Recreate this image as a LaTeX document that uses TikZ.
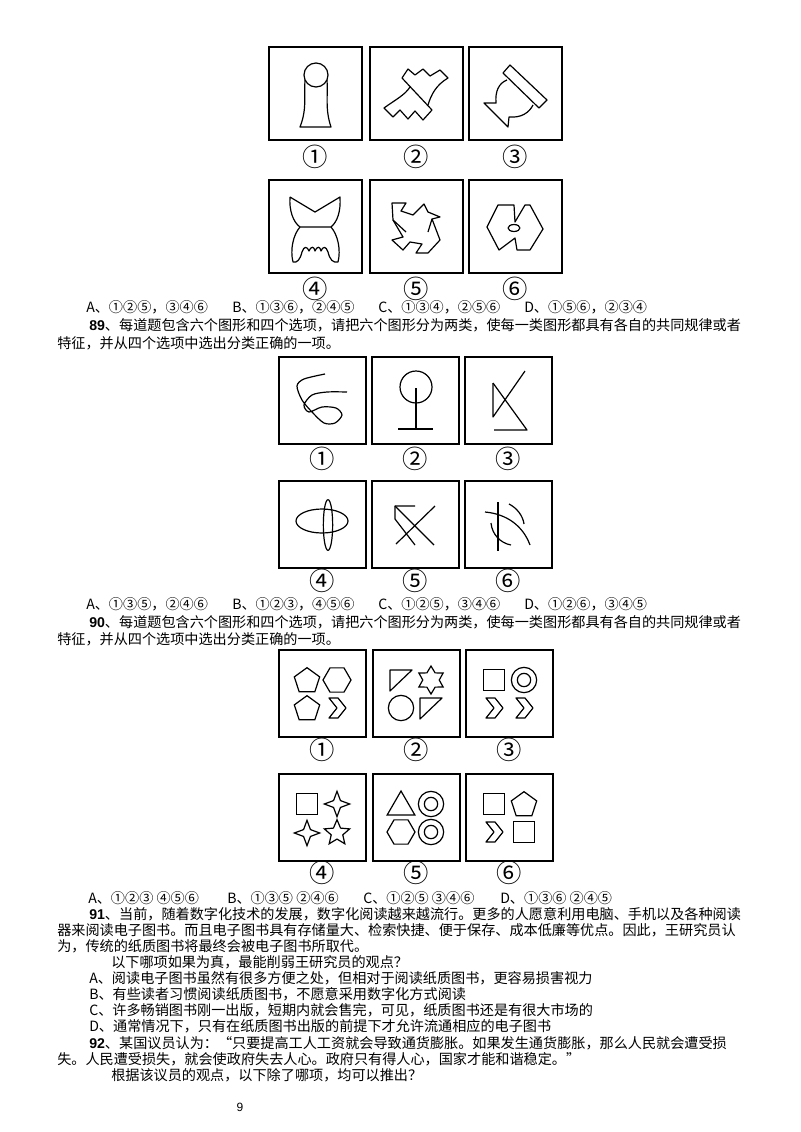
\documentclass[tikz,border=0pt]{standalone}
\usepackage{fontspec}
\setmainfont{Noto Sans CJK SC}
\newfontfamily\cjk{Noto Sans CJK SC}
\newfontfamily\numf{Liberation Sans}
\usetikzlibrary{shapes.geometric}
\tikzset{
  txt/.style={anchor=west, inner sep=0pt, font=\fontsize{10.6pt}{12pt}\selectfont},
  lab/.style={inner sep=0pt, font=\cjk\fontsize{19pt}{20pt}\selectfont},
  boxf/.style={line width=1.3pt},
  ln/.style={line width=0.9pt, line join=round},
  sh/.style={draw, line width=0.9pt, inner sep=0pt},
  pent/.style={sh, regular polygon, regular polygon sides=5, minimum size=20pt},
  hexa/.style={sh, regular polygon, regular polygon sides=6, minimum size=21pt},
  circ/.style={sh, circle, minimum size=19pt},
  icirc/.style={sh, circle, minimum size=10pt},
  sqr/.style={sh, rectangle, minimum size=16pt},
  trig/.style={sh, regular polygon, regular polygon sides=3, minimum size=24pt},
  starsix/.style={sh, star, star points=6, star point ratio=1.7, minimum size=21pt},
  starfour/.style={sh, star, star points=4, star point ratio=2.6, minimum size=19pt},
  starfive/.style={sh, star, star points=5, star point ratio=2.2, minimum size=20pt},
  chev/.pic={\draw[ln] (-8,-10) -- (1,-10) -- (9,0) -- (1,10) -- (-8,10) -- (0,0) -- cycle;},
  rtri/.pic={\draw[ln] (-11,-10) -- (11,-10) -- (-11,11) -- cycle;},
}
\begin{document}
\begin{tikzpicture}[x=0.75pt,y=-0.75pt]
\useasboundingbox (0,0) rectangle (800,1132);
\fill[white] (0,0) rectangle (800,1132);
% ---------- grid 1 ----------
\foreach \x/\y in {269/47,370/47,469/47,269/180,370/180,469/180}
  \draw[boxf] (\x,\y) rectangle ++(93,93);
\node[lab] (l11) at (315.5,157) {①};
\node[lab] (l12) at (416.5,157) {②};
\node[lab] (l13) at (515.5,157) {③};
\node[lab] (l14) at (315.5,289) {④};
\node[lab] (l15) at (416.5,289) {⑤};
\node[lab] (l16) at (515.5,289) {⑥};
\begin{scope}[shift={(269,47)}]
  \draw[ln] (47,28) circle[radius=9pt];
  \draw[ln] (36,33) .. controls (35,50) and (38,62) .. (31,80) -- (62,80) .. controls (56,62) and (59,50) .. (58,33);
\end{scope}
\begin{scope}[shift={(370,47)}]
  \draw[ln] (32,31) -- (38,22) -- (45,28) -- (53,22) -- (60,29) -- (70,23) -- (78,31) .. controls (66,38) and (61,48) .. (58,58);
  \draw[ln] (32,31) -- (62,63) -- (53,73) -- (45,64) -- (38,72) -- (30,63) -- (23,70) -- (14,61) .. controls (25,53) and (35,48) .. (40,40);
\end{scope}
\begin{scope}[shift={(469,47)}]
  \draw[ln] (34,26) -- (41,18) -- (78,53) -- (70,61) -- cycle;
  \draw[ln] (38,33) .. controls (30,36) and (26,44) .. (27,56) -- (15,56) -- (39,80) -- (40,70) .. controls (52,71) and (60,66) .. (64,58);
\end{scope}
\begin{scope}[shift={(269,180)}]
  \draw[ln] (21,17) -- (46,32) -- (71,17) .. controls (72,32) and (68,42) .. (62,47) -- (31,47) .. controls (24,42) and (20,30) .. (21,17);
  \draw[ln] (31,47) .. controls (24,55) and (21,70) .. (24,82) .. controls (28,83) and (31,80) .. (33,72)
    .. controls (35,66) and (38,66) .. (40,71) .. controls (42,66) and (45,66) .. (46,71)
    .. controls (48,66) and (51,66) .. (52,71) .. controls (54,66) and (57,66) .. (59,72)
    .. controls (61,80) and (64,83) .. (69,82) .. controls (72,70) and (69,55) .. (62,47);
\end{scope}
\begin{scope}[shift={(370,180)}]
  \draw[ln] (22,23) -- (36,23) -- (31,31) -- (43,35) -- (54,24) -- (58,32) -- (70,37) -- (62,39) -- (70,60) -- (58,73) -- (46,73) -- (52,64) -- (40,62) -- (33,70) -- (22,60) -- (33,57) -- (23,40) -- cycle;
  \draw[ln] (23,40) -- (36,52);
  \draw[ln] (62,39) -- (58,52);
\end{scope}
\begin{scope}[shift={(469,180)}]
  \draw[ln] (18,47) -- (29,25) -- (45,25) -- (46,42) -- (56,25) -- (61,25) -- (74,49) -- (61,70) -- (48,70) -- (46,58) -- (30,70) -- cycle;
  \draw[ln] (45,48) ellipse[x radius=4.5pt, y radius=2.6pt];
\end{scope}
% ---------- text block 1 ----------
\node[txt] (o1a) at (86,307) {A、①②⑤，③④⑥};
\node[txt] (o1b) at (232,307) {B、①③⑥，②④⑤};
\node[txt] (o1c) at (378,307) {C、①③④，②⑤⑥};
\node[txt] (o1d) at (524,307) {D、①⑤⑥，②③④};
\node[txt] (q89) at (89,325) {{\numf\bfseries 89}、每道题包含六个图形和四个选项，请把六个图形分为两类，使每一类图形都具有各自的共同规律或者};
\node[txt] (q89b) at (57,343) {特征，并从四个选项中选出分类正确的一项。};
% ---------- grid 2 ----------
\foreach \x/\y in {279/357,372/357,465/357,279/481,372/481,465/481}
  \draw[boxf] (\x,\y) rectangle ++(87,87);
\node[lab] (l21) at (322.5,459) {①};
\node[lab] (l22) at (415.5,459) {②};
\node[lab] (l23) at (508.5,459) {③};
\node[lab] (l24) at (322.5,581) {④};
\node[lab] (l25) at (415.5,581) {⑤};
\node[lab] (l26) at (508.5,581) {⑥};
\begin{scope}[shift={(279,357)}]
  \draw[ln] plot[smooth] coordinates {(46,17) (25,22) (18,29) (23,43) (33,55) (45,66) (56,66) (63,58) (57,51) (43,50) (30,55) (25,48) (33,38) (48,35) (68,35)};
\end{scope}
\begin{scope}[shift={(372,357)}]
  \draw[ln] (44,30) circle[radius=12pt];
  \draw[ln] (44,31) -- (44,72);
  \draw[ln] (26,72) -- (61,72);
\end{scope}
\begin{scope}[shift={(465,357)}]
  \draw[ln] (28,26) -- (28,60) -- (60,14);
  \draw[ln] (28,26) -- (62,73) -- (29,73);
\end{scope}
\begin{scope}[shift={(279,481)}]
  \draw[ln] (43,40) ellipse[x radius=19.5pt, y radius=9pt];
  \draw[ln] (49,44) ellipse[x radius=3.5pt, y radius=19pt];
\end{scope}
\begin{scope}[shift={(372,481)}]
  \draw[ln] (43,25) -- (23,25) -- (23,38) -- (43,64);
  \draw[ln] (23,25) -- (62,64);
  \draw[ln] (63,25) -- (24,63);
\end{scope}
\begin{scope}[shift={(465,481)}]
  \draw[ln] (33,21) -- (33,70);
  \draw[ln] (20,31) .. controls (42,33) and (58,45) .. (65,64);
  \draw[ln] (44,23) .. controls (52,27) and (58,35) .. (59,43);
  \draw[ln] (26,42) .. controls (27,53) and (35,62) .. (46,64);
\end{scope}
% ---------- text block 2 ----------
\node[txt] (o2a) at (86,604) {A、①③⑤，②④⑥};
\node[txt] (o2b) at (232,604) {B、①②③，④⑤⑥};
\node[txt] (o2c) at (378,604) {C、①②⑤，③④⑥};
\node[txt] (o2d) at (524,604) {D、①②⑥，③④⑤};
\node[txt] (q90) at (89,622) {{\numf\bfseries 90}、每道题包含六个图形和四个选项，请把六个图形分为两类，使每一类图形都具有各自的共同规律或者};
\node[txt] (q90b) at (57,639) {特征，并从四个选项中选出分类正确的一项。};
% ---------- grid 3 ----------
\foreach \x/\y in {279/650,373/650,466/650,279/774,373/774,466/774}
  \draw[boxf] (\x,\y) rectangle ++(87,87);
\node[lab] (l31) at (322.5,750) {①};
\node[lab] (l32) at (416.5,750) {②};
\node[lab] (l33) at (509.5,750) {③};
\node[lab] (l34) at (322.5,873) {④};
\node[lab] (l35) at (416.5,873) {⑤};
\node[lab] (l36) at (509.5,873) {⑥};
\begin{scope}[shift={(279,650)}]
  \node[pent] (a1) at (28,31) {};
  \node[hexa] (a2) at (58,30) {};
  \node[pent] (a3) at (28,59) {};
  \pic (a4) at (58,58) {chev};
\end{scope}
\begin{scope}[shift={(373,650)}]
  \pic (b1) at (28,30) {rtri};
  \node[starsix] (b2) at (58,30) {};
  \node[circ] (b3) at (28,58) {};
  \pic (b4) at (58,58) {rtri};
\end{scope}
\begin{scope}[shift={(466,650)}]
  \node[sqr] (c1) at (28,30) {};
  \node[circ] (c2) at (58,30) {};
  \node[icirc] (c2i) at (58,30) {};
  \pic (c3) at (28,58) {chev};
  \pic (c4) at (58,58) {chev};
\end{scope}
\begin{scope}[shift={(279,774)}]
  \node[sqr] (d1) at (28,30) {};
  \node[starfour] (d2) at (58,30) {};
  \node[starfour] (d3) at (28,59) {};
  \node[starfive] (d4) at (58,59) {};
\end{scope}
\begin{scope}[shift={(373,774)}]
  \node[trig] (e1) at (28,33) {};
  \node[circ] (e2) at (58,30) {};
  \node[icirc] (e2i) at (58,30) {};
  \node[hexa] (e3) at (28,58) {};
  \node[circ] (e4) at (58,58) {};
  \node[icirc] (e4i) at (58,58) {};
\end{scope}
\begin{scope}[shift={(466,774)}]
  \node[sqr] (f1) at (28,30) {};
  \node[pent] (f2) at (58,31) {};
  \pic (f3) at (28,58) {chev};
  \node[sqr] (f4) at (58,58) {};
\end{scope}
% ---------- text block 3 ----------
\node[txt] (o3a) at (88,898) {A、①②③ ④⑤⑥};
\node[txt] (o3b) at (227,898) {B、①③⑤ ②④⑥};
\node[txt] (o3c) at (363,898) {C、①②⑤ ③④⑥};
\node[txt] (o3d) at (500,898) {D、①③⑥ ②④⑤};
\node[txt] (q91) at (89,914) {{\numf\bfseries 91}、当前，随着数字化技术的发展，数字化阅读越来越流行。更多的人愿意利用电脑、手机以及各种阅读};
\node[txt] (q91b) at (57,930) {器来阅读电子图书。而且电子图书具有存储量大、检索快捷、便于保存、成本低廉等优点。因此，王研究员认};
\node[txt] (q91c) at (57,946) {为，传统的纸质图书将最终会被电子图书所取代。};
\node[txt] (q91d) at (111,962) {以下哪项如果为真，最能削弱王研究员的观点？};
\node[txt] (q91e) at (89,978) {A、阅读电子图书虽然有很多方便之处，但相对于阅读纸质图书，更容易损害视力};
\node[txt] (q91f) at (89,994) {B、有些读者习惯阅读纸质图书，不愿意采用数字化方式阅读};
\node[txt] (q91g) at (89,1010) {C、许多畅销图书刚一出版，短期内就会售完，可见，纸质图书还是有很大市场的};
\node[txt] (q91h) at (89,1026) {D、通常情况下，只有在纸质图书出版的前提下才允许流通相应的电子图书};
\node[txt] (q92) at (89,1043) {{\numf\bfseries 92}、某国议员认为：“只要提高工人工资就会导致通货膨胀。如果发生通货膨胀，那么人民就会遭受损};
\node[txt] (q92b) at (57,1059) {失。人民遭受损失，就会使政府失去人心。政府只有得人心，国家才能和谐稳定。”};
\node[txt] (q92c) at (111,1075) {根据该议员的观点，以下除了哪项，均可以推出？};
\node[inner sep=0pt, font=\numf\fontsize{9pt}{10pt}\selectfont] (pg) at (240,1107) {9};
\end{tikzpicture}
\end{document}
